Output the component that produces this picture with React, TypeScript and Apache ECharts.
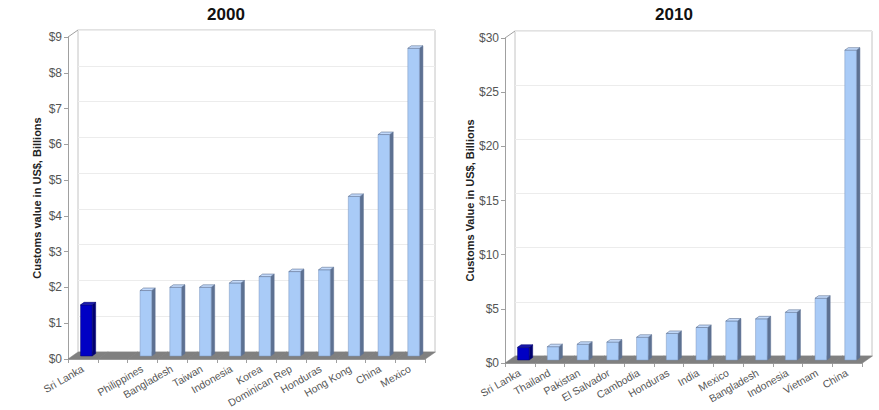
import React, { useEffect, useRef } from "react";
import * as echarts from "echarts";

// ---- Data ----
const categories2000 = [
  "Sri Lanka", "", "Philippines", "Bangladesh", "Taiwan", "Indonesia",
  "Korea", "Dominican Rep", "Honduras", "Hong Kong", "China", "Mexico",
];
const values2000: (number | null)[] = [
  1.43, null, 1.83, 1.92, 1.92, 2.04, 2.22, 2.36, 2.41, 4.46, 6.19, 8.6,
];
const ticks2000 = { min: 0, max: 9, interval: 1 };

const categories2010 = [
  "Sri Lanka", "Thailand", "Pakistan", "El Salvador", "Cambodia", "Honduras",
  "India", "Mexico", "Bangladesh", "Indonesia", "Vietnam", "China",
];
const values2010: (number | null)[] = [
  1.17, 1.23, 1.45, 1.65, 2.1, 2.45, 3.0, 3.6, 3.8, 4.4, 5.7, 28.6,
];
const ticks2010 = { min: 0, max: 30, interval: 5 };

const highlightCategory = "Sri Lanka";
const titles = ["2000", "2010"];
const yNames = ["Customs value in US$, Billions", "Customs Value in US$, Billions"];

// ---- Styling / layout ----
const FONT = "'Liberation Sans Narrow', 'Arial Narrow', 'Liberation Sans', Arial, sans-serif";
const DEPTH_X = 10;
const DEPTH_Y = -7;
const panels = [
  { left: 68, top: 37, width: 357, height: 322, titleX: 221, nameGap: 26 },
  { left: 505, top: 38, width: 357, height: 325, titleX: 669, nameGap: 28 },
];

const LIGHT = { front: "#a9cbf7", side: "#5d7192", top: "#c3dafb", stroke: "#7a95bd" };
const DARK = { front: "#0000c4", side: "#000070", top: "#1a1ab0", stroke: "#00006a" };

function barRender(cats: string[]) {
  return (params: any, api: any) => {
    const idx = api.value(0);
    const v = api.value(1);
    if (v == null || isNaN(v)) return null;
    const band = api.size([1, 0])[0];
    const base = api.coord([idx, 0]);
    const top = api.coord([idx, v]);
    const w = band * 0.39;
    const mdx = 3.5, mdy = -3; // bar sits mid-depth of floor
    const ddx = 3.5, ddy = -2.5; // bar depth
    const x0 = base[0] - w / 2 + mdx;
    const yB = base[1] + mdy;
    const yT = top[1] + mdy;
    const c = cats[idx] === highlightCategory ? DARK : LIGHT;
    return {
      type: "group",
      children: [
        {
          type: "polygon",
          shape: { points: [[x0 + w, yT], [x0 + w + ddx, yT + ddy], [x0 + w + ddx, yB + ddy], [x0 + w, yB]] },
          style: { fill: c.side, stroke: c.side, lineWidth: 0.5 },
        },
        {
          type: "rect",
          shape: { x: x0, y: yT, width: w, height: yB - yT },
          style: { fill: c.front, stroke: c.stroke, lineWidth: 0.5 },
        },
        {
          type: "polygon",
          shape: { points: [[x0, yT], [x0 + ddx, yT + ddy], [x0 + w + ddx, yT + ddy], [x0 + w, yT]] },
          style: { fill: c.top, stroke: c.side, lineWidth: 0.6 },
        },
      ],
    };
  };
}

function floorRender(params: any, api: any) {
  const idx = api.value(0);
  const band = api.size([1, 0])[0];
  const p = api.coord([idx, 0]);
  const l = p[0] - band / 2;
  const r = p[0] + band / 2;
  const y = p[1];
  return {
    type: "polygon",
    shape: { points: [[l, y], [r + 0.5, y], [r + 0.5 + DEPTH_X, y + DEPTH_Y], [l + DEPTH_X, y + DEPTH_Y]] },
    style: { fill: "#808080", stroke: "#808080", lineWidth: 0.5 },
  };
}

export default function App() {
  const ref = useRef<HTMLDivElement>(null);
  useEffect(() => {
    if (!ref.current) return;
    const chart = echarts.init(ref.current, null, { renderer: "svg" });
    const cats = [categories2000, categories2010];
    const vals = [values2000, values2010];
    const ticks = [ticks2000, ticks2010];

    const grid: any[] = [];
    const xAxis: any[] = [];
    const yAxis: any[] = [];
    const series: any[] = [];
    const graphic: any[] = [];
    const title: any[] = [];

    panels.forEach((p, k) => {
      // back wall grid (index 2k), front grid (2k+1)
      grid.push({
        left: p.left + DEPTH_X, top: p.top + DEPTH_Y, width: p.width, height: p.height,
        show: true, borderColor: "#c4c4c4", borderWidth: 1, backgroundColor: "#ffffff",
        containLabel: false, outerBoundsMode: "none",
      });
      grid.push({
        left: p.left, top: p.top, width: p.width, height: p.height,
        containLabel: false, outerBoundsMode: "none",
      });

      xAxis.push({
        type: "category", gridIndex: 2 * k, data: cats[k], show: false,
      });
      xAxis.push({
        type: "category", gridIndex: 2 * k + 1, data: cats[k],
        axisLine: { show: true, lineStyle: { color: "#a0a0a0", width: 1 } },
        axisTick: { show: true, length: 4, lineStyle: { color: "#a0a0a0" } },
        axisLabel: {
          interval: 0, rotate: 30, margin: 9, color: "#555555",
          fontFamily: FONT, fontSize: 10.5,
        },
      });
      yAxis.push({
        type: "value", gridIndex: 2 * k, ...ticks[k],
        axisLine: { show: false }, axisTick: { show: false }, axisLabel: { show: false },
        splitLine: { show: true, lineStyle: { color: "#ececec", width: 1 } },
      });
      yAxis.push({
        type: "value", gridIndex: 2 * k + 1, ...ticks[k],
        name: yNames[k], nameLocation: "middle", nameGap: p.nameGap, nameRotate: 90,
        nameTextStyle: { fontFamily: FONT, fontSize: 11, fontWeight: "bold", color: "#222222" },
        axisLine: { show: true, lineStyle: { color: "#a0a0a0", width: 1 } },
        axisTick: { show: true, length: 4, lineStyle: { color: "#a0a0a0" } },
        axisLabel: {
          formatter: (v: number) => "$" + v, color: "#555555",
          fontFamily: FONT, fontSize: 12, margin: 6,
        },
        splitLine: { show: false },
      });

      series.push({
        type: "custom", xAxisIndex: 2 * k + 1, yAxisIndex: 2 * k + 1, z: 1,
        renderItem: floorRender, encode: { x: 0, y: 1 },
        data: cats[k].map((_, i) => [i, 0]), silent: true,
      });
      series.push({
        type: "custom", xAxisIndex: 2 * k + 1, yAxisIndex: 2 * k + 1, z: 3,
        renderItem: barRender(cats[k]), encode: { x: 0, y: 1 },
        data: vals[k].map((v, i) => [i, v]).filter((d) => d[1] != null),
      });

      graphic.push({
        type: "line", z: 5,
        shape: { x1: p.left, y1: p.top, x2: p.left + DEPTH_X, y2: p.top + DEPTH_Y },
        style: { stroke: "#a0a0a0", lineWidth: 1 },
      });

      title.push({
        text: titles[k], left: p.titleX, top: 1, textAlign: "center",
        textStyle: { fontFamily: FONT, fontSize: 17, fontWeight: "bold", color: "#111111" },
      });
    });

    chart.setOption({
      animation: false,
      backgroundColor: "#ffffff",
      title, grid, xAxis, yAxis, series, graphic,
    });
    return () => chart.dispose();
  }, []);
  return (
    <div
      ref={ref}
      style={{ position: "fixed", left: 0, top: 0, width: 879, height: 410, background: "#fff" }}
    />
  );
}
